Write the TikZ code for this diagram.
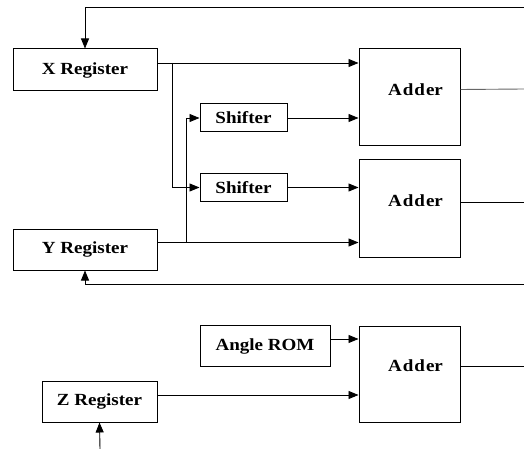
\documentclass[tikz,border=0pt]{standalone}
\usepackage{fontspec}
\setmainfont{Liberation Serif}[FakeStretch=1.12]
\usetikzlibrary{arrows.meta,calc}
\begin{document}
\begin{tikzpicture}[x=1pt,y=-1pt,
  box/.style={draw,line width=1pt,inner sep=0pt,font=\fontsize{17}{19}\selectfont\bfseries},
  lbl/.style={inner sep=0pt,font=\fontsize{17}{19}\selectfont\bfseries},
  arr/.style={line width=0.9pt,-{Triangle[length=10pt,width=8pt]}},
  ln/.style={line width=0.9pt}]
\useasboundingbox (0,0) rectangle (524,449);
% boxes
\node[box,minimum width=144pt,minimum height=42pt] (xr) at (85,70) {X Register};
\node[box,minimum width=144pt,minimum height=41pt] (yr) at (85,249.5) {Y Register};
\node[box,minimum width=115pt,minimum height=41pt] (zr) at (99.5,401.5) {Z Register};
\node[box,minimum width=87pt,minimum height=28pt] (s1) at (243.5,118) {Shifter};
\node[box,minimum width=87pt,minimum height=28pt] (s2) at (243.5,187.5) {Shifter};
\node[box,minimum width=130pt,minimum height=41pt] (rom) at (265,346) {Angle ROM};
\node[box,minimum width=101pt,minimum height=97pt] (a1) at (409.5,97.5) {};
\node[box,minimum width=101pt,minimum height=97pt] (a2) at (409.5,208.5) {};
\node[box,minimum width=101pt,minimum height=96pt] (a3) at (409.5,374) {};
\node[lbl] (t1) at ($(a1.center)+(6,-8)$) {A\kern1pt d\kern1pt d\kern1pt er};
\node[lbl] (t2) at ($(a2.center)+(6,-8)$) {A\kern1pt d\kern1pt d\kern1pt er};
\node[lbl] (t3) at ($(a3.center)+(6,-8)$) {A\kern1pt d\kern1pt d\kern1pt er};
% coordinates
\coordinate (fbx) at (524,7);
\coordinate (fby) at (524,284);
\coordinate (zin) at (100,449);
\coordinate (xo) at ([yshift=7pt]xr.east);
\coordinate (yo) at ([yshift=7pt]yr.east);
\coordinate (zo) at ([yshift=6.5pt]zr.east);
\coordinate (ro) at ([yshift=7pt]rom.east);
\coordinate (bx) at (172,63);
\coordinate (by) at (186,242);
\coordinate (o1) at ([yshift=8pt]a1.east);
\coordinate (o2) at ([yshift=6.5pt]a2.east);
\coordinate (o3) at ([yshift=8pt]a3.east);
\coordinate (e1) at (524,89);
\coordinate (e2) at (524,202);
\coordinate (e3) at (524,366);
% connectors
\draw[arr] (fbx) -| (xr.north);
\draw[arr] (xo) -- (xo -| a1.west);
\draw[arr] (bx) |- (s2.west);
\draw[arr] (s1.east) -- (s1.east -| a1.west);
\draw[arr] (s2.east) -- (s2.east -| a2.west);
\draw[arr] (yo) -- (yo -| a2.west);
\draw[arr] (by) |- (s1.west);
\draw[ln,black!60] (o1) -- (e1);
\draw[ln] (o2) -- (e2);
\draw[ln] (o3) -- (e3);
\draw[arr] (fby) -| (yr.south);
\draw[arr] (ro) -- (ro -| a3.west);
\draw[arr] (zo) -- (zo -| a3.west);
\draw[arr] (zin) -- (zr.south);
\end{tikzpicture}
\end{document}
